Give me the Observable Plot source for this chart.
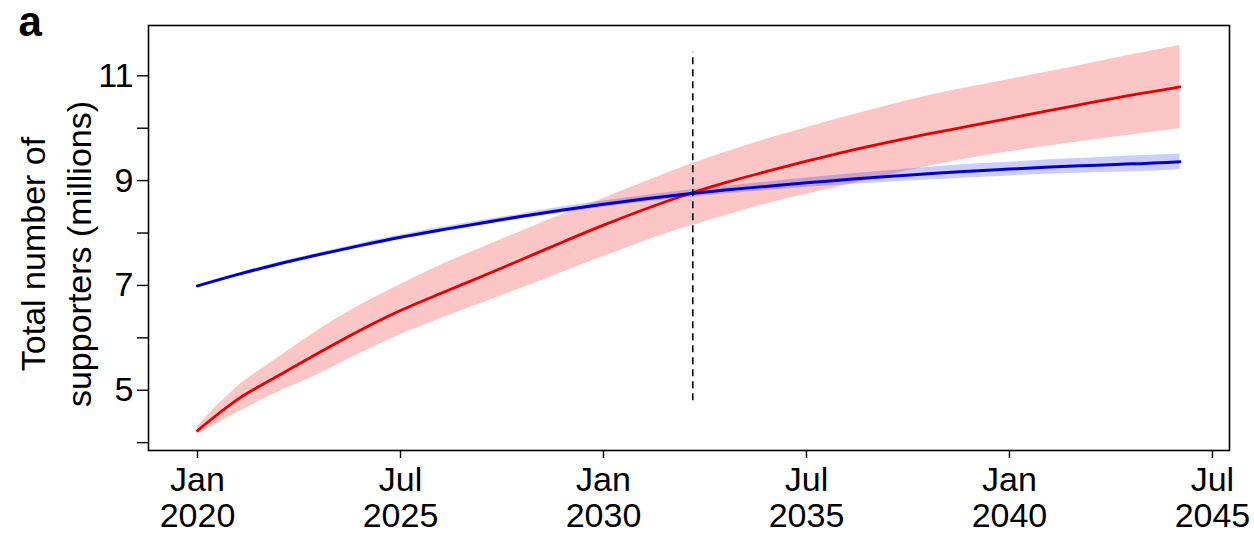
<!DOCTYPE html>
<html>
<head>
<meta charset="utf-8">
<script src="https://cdn.jsdelivr.net/npm/d3@7"></script>
<script src="https://cdn.jsdelivr.net/npm/@observablehq/plot@0.6"></script>
<style>
  html, body { margin: 0; padding: 0; background: #fff; }
  #chart svg { display: block; }
</style>
</head>
<body>
<div id="chart"></div>
<script>
// Time (decimal year)
const years = [2020, 2021, 2022, 2023, 2024, 2025, 2026, 2027, 2028, 2029, 2030, 2031, 2032,
  2033, 2034, 2035, 2036, 2037, 2038, 2039, 2040, 2041, 2042, 2043, 2044, 2044.2];

// Red series (mean and uncertainty band), millions
const redMean = [4.23, 4.83, 5.28, 5.72, 6.14, 6.52, 6.85, 7.17, 7.50, 7.83, 8.15, 8.45, 8.72,
  8.96, 9.17, 9.37, 9.56, 9.73, 9.89, 10.04, 10.19, 10.34, 10.49, 10.63, 10.76, 10.79];
const redHi = [4.31, 5.08, 5.63, 6.16, 6.62, 7.02, 7.39, 7.72, 8.04, 8.36, 8.66, 8.97, 9.27,
  9.54, 9.79, 10.01, 10.23, 10.43, 10.62, 10.78, 10.93, 11.08, 11.24, 11.40, 11.55, 11.58];
const redLo = [4.15, 4.58, 4.97, 5.31, 5.70, 6.06, 6.37, 6.66, 6.95, 7.25, 7.55, 7.84, 8.10,
  8.33, 8.55, 8.74, 8.92, 9.10, 9.27, 9.42, 9.55, 9.66, 9.77, 9.87, 9.97, 9.99];

// Blue series (mean and uncertainty band), millions
const blueMean = [6.99, 7.21, 7.41, 7.59, 7.76, 7.92, 8.06, 8.19, 8.32, 8.44, 8.55, 8.65, 8.74,
  8.82, 8.89, 8.96, 9.02, 9.08, 9.13, 9.18, 9.22, 9.26, 9.29, 9.32, 9.35, 9.36];
const blueHi = [7.01, 7.23, 7.44, 7.62, 7.80, 7.96, 8.11, 8.24, 8.37, 8.50, 8.61, 8.71, 8.81,
  8.89, 8.97, 9.05, 9.12, 9.19, 9.25, 9.31, 9.35, 9.40, 9.43, 9.47, 9.50, 9.51];
const blueLo = [6.97, 7.19, 7.38, 7.56, 7.72, 7.88, 8.01, 8.14, 8.27, 8.38, 8.49, 8.59, 8.67,
  8.75, 8.81, 8.87, 8.92, 8.97, 9.01, 9.05, 9.09, 9.12, 9.15, 9.17, 9.20, 9.21];

// Crossover marker
const crossoverYear = 2032.2;
const crossoverSpan = [4.8, 11.45];

// Axis ticks
const xTicks = [2020, 2025, 2030, 2035, 2040, 2045];
const xTickLabels = ["Jan\n2020", "Jul\n2025", "Jan\n2030", "Jul\n2035", "Jan\n2040", "Jul\n2045"];
const yTicks = [4, 5, 6, 7, 8, 9, 10, 11];
const yTickLabels = ["", "5", "", "7", "", "9", "", "11"];

const panelLabel = "a";
const yLabel = "Total number of\nsupporters (millions)";

const red = years.map((x, i) => ({x, mean: redMean[i], lo: redLo[i], hi: redHi[i]}));
const blue = years.map((x, i) => ({x, mean: blueMean[i], lo: blueLo[i], hi: blueHi[i]}));

const font = "'Liberation Sans', Arial, Helvetica, sans-serif";

const chart = Plot.plot({
  width: 1254,
  height: 536,
  marginLeft: 148,
  marginRight: 25,
  marginTop: 25,
  marginBottom: 86,
  style: {fontFamily: font, fontSize: "34px", color: "#000", background: "#fff", overflow: "visible"},
  x: {domain: [2018.793, 2045.42]},
  y: {domain: [3.85, 11.96]},
  marks: [
    Plot.areaY(red, {x: "x", y1: "lo", y2: "hi", fill: "#fcc6c6", curve: "monotone-x"}),
    Plot.areaY(blue, {x: "x", y1: "lo", y2: "hi", fill: "#0000ff", fillOpacity: 0.2, curve: "monotone-x"}),
    Plot.lineY(red, {x: "x", y: "mean", stroke: "#e60000", strokeWidth: 2.8, curve: "monotone-x"}),
    Plot.lineY(blue, {x: "x", y: "mean", stroke: "#0000cc", strokeWidth: 3, curve: "monotone-x"}),
    Plot.ruleX([crossoverYear], {y1: crossoverSpan[0], y2: crossoverSpan[1], stroke: "#000", strokeWidth: 1.6, strokeDasharray: "7,5"}),
    Plot.frame({stroke: "#000", strokeWidth: 1.6}),
    Plot.axisY({ticks: yTicks, tickFormat: d => yTickLabels[yTicks.indexOf(d)], tickSize: 11, tickPadding: 4, label: null, strokeWidth: 1.4, fontSize: 34}),
    Plot.axisX({ticks: xTicks, tickFormat: d => xTickLabels[xTicks.indexOf(d)], tickSize: 8, tickPadding: 7, lineHeight: 1.06, label: null, strokeWidth: 1.4, fontSize: 34}),
    Plot.text([panelLabel], {frameAnchor: "top-left", dx: -130, dy: 10, text: d => d, textAnchor: "start", lineAnchor: "bottom", fontSize: 42, fontWeight: "bold", fill: "#000"}),
    Plot.text([yLabel], {frameAnchor: "left", dx: -95, dy: 16, text: d => d, rotate: -90, textAnchor: "middle", lineAnchor: "middle", lineHeight: 1.35, fontSize: 34, fill: "#000"})
  ]
});
document.getElementById("chart").appendChild(chart);
</script>
</body>
</html>
